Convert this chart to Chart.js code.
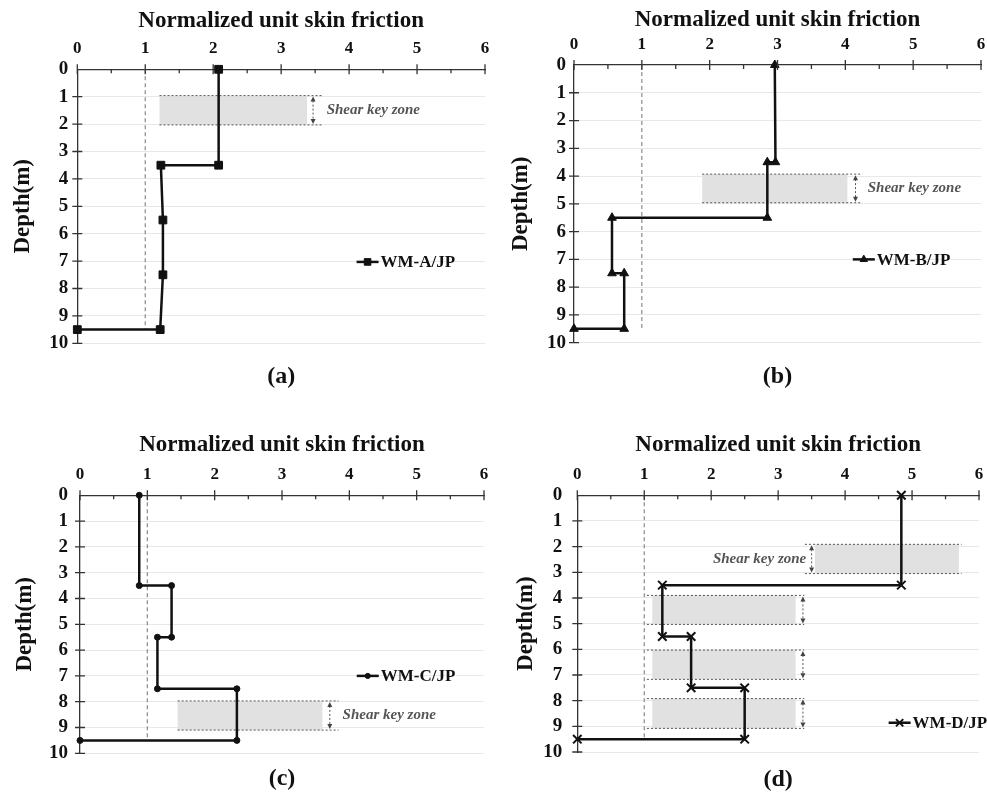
<!DOCTYPE html>
<html lang="en">
<head>
<meta charset="UTF-8" />
<title>Normalized unit skin friction</title>
<script src="https://cdn.jsdelivr.net/npm/chart.js"></script>
<style>
  html, body { margin: 0; padding: 0; background: #fff; overflow: hidden; }
  #wrap { position: relative; width: 987px; height: 792px; }
  canvas { position: absolute; }
</style>
</head>
<body>
<div id="wrap">
  <canvas id="chartA" width="494" height="396" style="left:0;top:0"></canvas>
  <canvas id="chartB" width="493" height="396" style="left:494px;top:0"></canvas>
  <canvas id="chartC" width="494" height="396" style="left:0;top:396px"></canvas>
  <canvas id="chartD" width="493" height="396" style="left:494px;top:396px"></canvas>
</div>
<script>
// depth (m) and normalized unit skin friction for each pile
const depthA = [0, 3.5, 3.5, 5.5, 7.5, 9.5, 9.5];
const frictionA = [2.08, 2.08, 1.23, 1.26, 1.26, 1.22, 0];

const depthB = [0, 3.5, 3.5, 5.5, 5.5, 7.5, 7.5, 9.5, 9.5];
const frictionB = [2.96, 2.97, 2.85, 2.85, 0.56, 0.56, 0.74, 0.74, 0];

const depthC = [0, 3.5, 3.5, 5.5, 5.5, 7.5, 7.5, 9.5, 9.5];
const frictionC = [0.88, 0.88, 1.36, 1.36, 1.15, 1.15, 2.33, 2.33, 0];

const depthD = [0, 3.5, 3.5, 5.5, 5.5, 7.5, 7.5, 9.5, 9.5];
const frictionD = [4.84, 4.84, 1.27, 1.27, 1.70, 1.70, 2.50, 2.50, 0];

// reference line at normalized friction = 1
const refFriction = [1, 1];
const refDepth = [0, 9.5];

const xTitle = 'Normalized unit skin friction';
const yTitle = 'Depth(m)';
const keyLabel = 'Shear key zone';

Chart.defaults.font.family = "'Liberation Serif', 'Times New Roman', serif";
Chart.defaults.font.weight = 'bold';
Chart.defaults.color = '#111';

function toPoints(xs, ys) {
  return xs.map((v, i) => ({ x: v, y: ys[i] }));
}

// shaded shear key bands with dotted edges and a double arrow
const shearKeys = {
  id: 'shearKeys',
  beforeDatasetsDraw(chart, args, opts) {
    const { ctx, scales: { x, y } } = chart;
    ctx.save();
    opts.zones.forEach(z => {
      const yT = y.getPixelForValue(z.top), yB = y.getPixelForValue(z.bottom);
      const x0 = x.getPixelForValue(z.from), x1 = x.getPixelForValue(z.to);
      ctx.fillStyle = '#e1e1e1';
      ctx.fillRect(x0, yT, x1 - x0, yB - yT);

      ctx.strokeStyle = '#555';
      ctx.lineWidth = 1;
      ctx.setLineDash([2, 2]);
      ctx.beginPath();
      const l0 = x.getPixelForValue(z.lineFrom), l1 = x.getPixelForValue(z.lineTo);
      ctx.moveTo(l0, yT); ctx.lineTo(l1, yT);
      ctx.moveTo(l0, yB); ctx.lineTo(l1, yB);
      const ax = x.getPixelForValue(z.arrowAt);
      ctx.moveTo(ax, yT + 5); ctx.lineTo(ax, yB - 5);
      ctx.stroke();
      ctx.setLineDash([]);

      ctx.fillStyle = '#444';
      ctx.beginPath();
      ctx.moveTo(ax, yT + 1); ctx.lineTo(ax - 2.5, yT + 6); ctx.lineTo(ax + 2.5, yT + 6); ctx.closePath();
      ctx.moveTo(ax, yB - 1); ctx.lineTo(ax - 2.5, yB - 6); ctx.lineTo(ax + 2.5, yB - 6); ctx.closePath();
      ctx.fill();

      if (z.textAt != null) {
        ctx.font = "italic bold 15px 'Liberation Serif', serif";
        ctx.fillStyle = '#555';
        ctx.textAlign = z.textAlign;
        ctx.textBaseline = 'middle';
        ctx.fillText(keyLabel, x.getPixelForValue(z.textAt), (yT + yB) / 2);
      }
    });
    ctx.restore();
  }
};

// tick marks crossing the axes, with half-step minor ticks on top
const axisTicks = {
  id: 'axisTicks',
  afterDraw(chart) {
    const { ctx, scales: { x, y }, chartArea: a } = chart;
    ctx.save();
    ctx.strokeStyle = '#333';
    ctx.lineWidth = 1.3;
    ctx.beginPath();
    x.ticks.forEach(t => {
      const px = x.getPixelForValue(t.value);
      ctx.moveTo(px, a.top - 5); ctx.lineTo(px, a.top + 5);
      if (t.value < x.max) {
        const pm = x.getPixelForValue(t.value + 0.5);
        ctx.moveTo(pm, a.top); ctx.lineTo(pm, a.top + 4);
      }
    });
    y.ticks.forEach(t => {
      if (t.value === 0) return;
      const py = y.getPixelForValue(t.value);
      ctx.moveTo(a.left - 5, py); ctx.lineTo(a.left + 5, py);
    });
    ctx.stroke();
    ctx.restore();
  }
};

// series key placed inside the plot
const seriesKey = {
  id: 'seriesKey',
  afterDatasetsDraw(chart, args, opts) {
    const { ctx, scales: { x, y } } = chart;
    const ds = chart.data.datasets[0];
    const px = x.getPixelForValue(opts.at[0]), py = y.getPixelForValue(opts.at[1]);
    ctx.save();
    ctx.strokeStyle = '#111';
    ctx.lineWidth = 2.5;
    ctx.beginPath();
    ctx.moveTo(px, py); ctx.lineTo(px + 22, py);
    ctx.stroke();
    ctx.fillStyle = '#111';
    ctx.lineWidth = ds.pointBorderWidth;
    Chart.helpers.drawPoint(ctx, {
      pointStyle: ds.pointStyle, radius: ds.pointRadius * 0.85,
      borderWidth: ds.pointBorderWidth, rotation: 0
    }, px + 11, py);
    ctx.font = "bold 17px 'Liberation Serif', serif";
    ctx.textAlign = 'left';
    ctx.textBaseline = 'middle';
    ctx.fillText(ds.label, px + 24, py + 1);
    ctx.restore();
  }
};

function makePanel(p) {
  return new Chart(document.getElementById(p.id), {
    type: 'scatter',
    data: {
      datasets: [
        {
          label: p.name,
          data: toPoints(p.friction, p.depth),
          showLine: true,
          borderColor: '#111',
          backgroundColor: '#111',
          borderWidth: 2.5,
          pointStyle: p.marker,
          pointRadius: p.markerSize,
          pointHoverRadius: p.markerSize,
          pointBorderWidth: p.markerLine,
          clip: false
        },
        {
          label: 'ref',
          data: toPoints(refFriction, refDepth),
          showLine: true,
          borderColor: '#8a8a8a',
          borderWidth: 1.2,
          borderDash: [4, 3],
          pointRadius: 0,
          clip: false
        }
      ]
    },
    options: {
      responsive: false,
      animation: false,
      events: [],
      layout: { padding: { left: 0, top: 0, right: p.padRight, bottom: p.padBottom } },
      plugins: {
        legend: { display: false },
        tooltip: { enabled: false },
        title: {
          display: true,
          text: p.caption,
          position: 'bottom',
          fullSize: false,
          color: '#111',
          font: { size: 24, weight: 'bold', lineHeight: 1 },
          padding: { top: p.capPad, bottom: 0 }
        },
        shearKeys: { zones: p.zones },
        seriesKey: { at: p.keyAt }
      },
      scales: {
        x: {
          type: 'linear',
          position: 'top',
          min: 0,
          max: 6,
          ticks: { stepSize: 1, padding: 10, autoSkip: false, maxRotation: 0, font: { size: 17, weight: 'bold' } },
          grid: { display: false, drawTicks: false },
          border: { display: true, color: '#333', width: 1.3 },
          title: { display: true, text: xTitle, font: { size: 23, weight: 'bold' }, padding: { top: p.xTitlePad, bottom: 0 } },
          afterFit: s => { s.height = p.chartTop; s.paddingLeft = 0; s.paddingRight = 0; }
        },
        y: {
          type: 'linear',
          reverse: true,
          min: 0,
          max: 10,
          ticks: { stepSize: 1, padding: p.yTickPad, autoSkip: false, font: { size: 19, weight: 'bold' } },
          grid: {
            drawTicks: false,
            lineWidth: 1,
            color: c => (c.tick && c.tick.value === 0) ? 'rgba(0,0,0,0)' : '#e8e8e8'
          },
          border: { display: true, color: '#333', width: 1.3 },
          title: { display: true, text: yTitle, font: { size: 23, weight: 'bold' }, padding: { top: p.yTitlePad, bottom: 0 } },
          afterFit: s => { s.width = p.chartLeft; s.paddingTop = 0; s.paddingBottom = 0; }
        }
      }
    },
    plugins: [shearKeys, axisTicks, seriesKey]
  });
}

makePanel({
  id: 'chartA', name: 'WM-A/JP', caption: '(a)',
  depth: depthA, friction: frictionA,
  marker: 'rect', markerSize: 5.5, markerLine: 1,
  chartLeft: 77.3, chartTop: 69.3, padRight: 9, padBottom: 7, capPad: 21.7,
  xTitlePad: 7.2, yTitlePad: 9.2, yTickPad: 9,
  keyAt: [4.11, 7.03],
  zones: [
    { top: 0.96, bottom: 2.03, from: 1.21, to: 3.38, lineFrom: 1.21, lineTo: 3.6, arrowAt: 3.47, textAt: 3.67, textAlign: 'left' }
  ]
});

makePanel({
  id: 'chartB', name: 'WM-B/JP', caption: '(b)',
  depth: depthB, friction: frictionB,
  marker: 'triangle', markerSize: 5, markerLine: 1,
  chartLeft: 80, chartTop: 65, padRight: 4.7, padBottom: 7, capPad: 22.3,
  xTitlePad: 6.2, yTitlePad: 13, yTickPad: 8,
  keyAt: [4.11, 7.0],
  zones: [
    { top: 3.93, bottom: 4.96, from: 1.89, to: 4.03, lineFrom: 1.89, lineTo: 4.25, arrowAt: 4.15, textAt: 4.33, textAlign: 'left' }
  ]
});

makePanel({
  id: 'chartC', name: 'WM-C/JP', caption: '(c)',
  depth: depthC, friction: frictionC,
  marker: 'circle', markerSize: 3, markerLine: 1,
  chartLeft: 80, chartTop: 99.3, padRight: 10, padBottom: 1, capPad: 13.7,
  xTitlePad: 35.2, yTitlePad: 11, yTickPad: 12,
  keyAt: [4.11, 7.0],
  zones: [
    { top: 7.97, bottom: 9.1, from: 1.45, to: 3.6, lineFrom: 1.45, lineTo: 3.84, arrowAt: 3.71, textAt: 3.9, textAlign: 'left' }
  ]
});

makePanel({
  id: 'chartD', name: 'WM-D/JP', caption: '(d)',
  depth: depthD, friction: frictionD,
  marker: 'crossRot', markerSize: 6, markerLine: 2,
  chartLeft: 83.3, chartTop: 99.3, padRight: 5.7, padBottom: 0.7, capPad: 15.3,
  xTitlePad: 35.5, yTitlePad: 18, yTickPad: 15,
  keyAt: [4.65, 8.86],
  zones: [
    { top: 1.91, bottom: 3.05, from: 3.55, to: 5.70, lineFrom: 3.4, lineTo: 5.74, arrowAt: 3.5, textAt: 3.42, textAlign: 'right' },
    { top: 3.9, bottom: 5.03, from: 1.12, to: 3.26, lineFrom: 1.04, lineTo: 3.39, arrowAt: 3.37, textAt: null },
    { top: 6.03, bottom: 7.17, from: 1.12, to: 3.26, lineFrom: 1.04, lineTo: 3.39, arrowAt: 3.37, textAt: null },
    { top: 7.92, bottom: 9.08, from: 1.12, to: 3.26, lineFrom: 1.04, lineTo: 3.39, arrowAt: 3.37, textAt: null }
  ]
});
</script>
</body>
</html>
